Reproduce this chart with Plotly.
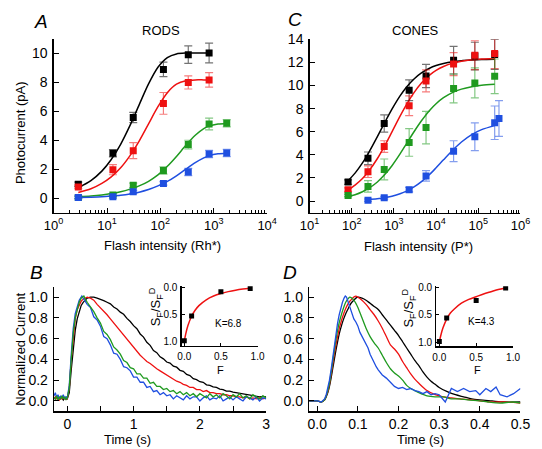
import plotly.graph_objects as go

W, H = 542, 449
def PX(px): return px / W
def PY(py): return 1 - py / H

FONT = "Liberation Sans, Arial, sans-serif"
C_BLACK = "#000000"
C_RED = "#ee1111"
C_GREEN = "#1f9a1f"
C_BLUE = "#1f4fe0"
E_BLACK = "rgba(0,0,0,0.55)"
E_RED = "rgba(238,17,17,0.55)"
E_GREEN = "rgba(31,154,31,0.55)"
E_BLUE = "rgba(31,79,224,0.55)"

# ---------------- Panel A (rods) ----------------
rod_intensity = [2.9, 12.9, 31, 114, 333, 818, 1750]
rod_black = [0.95, 3.09, 5.56, 8.87, 9.89, 10.0]
rod_black_err = [0.15, 0.25, 0.35, 0.5, 0.6, 0.68]
rod_red = [0.77, 1.96, 3.27, 6.53, 7.97, 8.15]
rod_red_err = [0.12, 0.35, 0.55, 0.75, 0.45, 0.5]
rod_green = [0.05, 0.22, 0.88, 1.91, 3.69, 5.11, 5.16]
rod_green_err = [0.08, 0.1, 0.15, 0.25, 0.3, 0.4, 0.25]
rod_blue = [0.05, 0.09, 0.43, 1.01, 1.8, 3.04, 3.11]
rod_blue_err = [0.08, 0.1, 0.1, 0.12, 0.25, 0.25, 0.25]

rod_fit_x = [2.9, 5, 8, 12, 18, 27, 40, 60, 90, 135, 200, 300, 450, 650, 818, 1200, 1750]
rod_fit_black = [0.72, 1.21, 1.86, 2.66, 3.71, 5.01, 6.43, 7.87, 9.02, 9.69, 9.94, 10.0, 10.0, 10.0, 10.0]
rod_fit_red = [0.38, 0.64, 1.01, 1.46, 2.09, 2.93, 3.93, 5.12, 6.30, 7.27, 7.85, 8.09, 8.15, 8.15, 8.15]
rod_fit_green = [0.10, 0.15, 0.22, 0.31, 0.44, 0.62, 0.84, 1.16, 1.60, 2.19, 2.87, 3.64, 4.33, 4.79, 4.97, 5.11, 5.15]
rod_fit_blue = [0.04, 0.06, 0.09, 0.14, 0.20, 0.29, 0.41, 0.59, 0.84, 1.15, 1.54, 2.00, 2.44, 2.77, 2.92, 3.05, 3.09]

# ---------------- Panel C (cones) ----------------
cone_intensity = [82, 243, 590, 2300, 5780, 26000, 83000, 245000, 310000]
cone_black = [1.64, 3.7, 6.72, 9.6, 10.83, 12.2, 12.55, 12.7]
cone_black_err = [0.2, 0.55, 0.75, 0.9, 1.0, 1.2, 1.2, 1.3]
cone_red = [0.99, 2.54, 4.72, 8.25, 10.4, 11.86, 12.63, 12.77]
cone_red_err = [0.15, 0.5, 0.5, 0.85, 0.95, 1.0, 1.25, 1.3]
cone_green = [0.48, 1.27, 2.74, 5.08, 6.36, 9.75, 10.23, 10.8]
cone_green_err = [0.1, 0.5, 0.9, 1.2, 1.4, 1.25, 1.3, 1.5]
cone_blue_x = [243, 590, 2300, 5780, 26000, 83000, 245000, 310000]
cone_blue = [0.08, 0.28, 0.99, 2.18, 4.32, 5.57, 6.78, 7.15]
cone_blue_err = [0.1, 0.12, 0.2, 0.45, 0.9, 1.2, 1.45, 1.55]

cone_fit_x = [82, 120, 180, 250, 400, 600, 900, 1400, 2000, 3000, 4500, 7000,
              10000, 15000, 25000, 40000, 70000, 120000, 245000]
cone_fit_black = [1.76, 2.42, 3.30, 4.16, 5.53, 6.77, 7.96, 9.11, 9.88, 10.57, 11.09, 11.50,
                  11.73, 11.91, 12.06, 12.15, 12.21, 12.25, 12.28]
cone_fit_red = [0.97, 1.38, 1.95, 2.56, 3.64, 4.76, 5.99, 7.35, 8.37, 9.39, 10.22, 10.90,
                11.31, 11.65, 11.94, 12.11, 12.23, 12.30, 12.35]
cone_fit_green = [0.38, 0.55, 0.81, 1.09, 1.63, 2.27, 3.06, 4.08, 4.98, 6.00, 6.95, 7.85,
                  8.43, 8.95, 9.41, 9.69, 9.90, 10.02, 10.11]
cone_fit_blue_x = [243, 400, 600, 900, 1400, 2000, 3000, 4500, 7000, 10000, 15000, 25000,
                   40000, 70000, 120000, 245000]
cone_fit_blue = [0.12, 0.19, 0.28, 0.42, 0.63, 0.86, 1.22, 1.68, 2.30, 2.88, 3.57, 4.42,
                 5.11, 5.75, 6.18, 6.53]

# ---------------- Panel B (rod responses) ----------------
b_base_t = [-0.2, -0.18, -0.16, -0.14, -0.12, -0.1, -0.08, -0.06, -0.04, -0.02, 0.0]
b_rise_t = [0.03, 0.06, 0.09, 0.12, 0.15, 0.18, 0.21]
b_dec_t = [round(0.25 + 0.05 * i, 2) for i in range(56)]

b_blue_t = b_base_t + b_rise_t + [0.22] + b_dec_t
b_blue = ([0.05, 0.08, 0.03, 0.06, 0.02, 0.05, 0.03, 0.06, 0.02, 0.04, 0.03]
          + [0.15, 0.45, 0.70, 0.84, 0.92, 0.97, 1.0] + [1.01]
          + [0.98, 0.93, 0.90, 0.81, 0.78, 0.72, 0.62, 0.60, 0.54, 0.46, 0.45, 0.40, 0.33, 0.32,
             0.29, 0.23, 0.23, 0.18, 0.18, 0.13, 0.14, 0.09, 0.10, 0.06, 0.08, 0.05, 0.06, 0.02,
             0.05, 0.03, 0.01, 0.05, 0.02, 0.04, 0.04, 0.0, 0.03, 0.05, 0.01, 0.03, 0.02, 0.05,
             0.0, 0.02, 0.04, 0.01, 0.04, 0.02, 0.0, 0.04, 0.03, 0.01, 0.04, 0.0, 0.03, 0.02])

b_green_t = b_base_t + b_rise_t + b_dec_t
b_green = ([0.03, 0.02, 0.05, 0.01, 0.04, 0.02, 0.05, 0.02, 0.04, 0.01, 0.03]
           + [0.12, 0.40, 0.65, 0.80, 0.89, 0.95, 0.99]
           + [1.01, 0.95, 0.91, 0.86, 0.80, 0.75, 0.67, 0.64, 0.59, 0.52, 0.49, 0.45, 0.39, 0.37,
              0.32, 0.31, 0.26, 0.26, 0.22, 0.22, 0.17, 0.18, 0.14, 0.14, 0.11, 0.12, 0.09, 0.10,
              0.07, 0.09, 0.06, 0.08, 0.05, 0.07, 0.04, 0.07, 0.05, 0.03, 0.07, 0.04, 0.06, 0.03,
              0.07, 0.05, 0.02, 0.06, 0.04, 0.07, 0.03, 0.05, 0.02, 0.06, 0.04, 0.02, 0.05, 0.03])

b_red_t = b_base_t + b_rise_t + [0.24, 0.27, 0.30] + [round(0.35 + 0.05 * i, 2) for i in range(54)]
b_red = ([0.02, 0.04, 0.02, 0.03, 0.01, 0.03, 0.02, 0.04, 0.02, 0.03, 0.02]
         + [0.12, 0.40, 0.64, 0.79, 0.88, 0.93, 0.96] + [0.98, 0.99, 1.0]
         + [0.99, 0.97, 0.93, 0.90, 0.86, 0.83, 0.79, 0.75, 0.71, 0.67, 0.63, 0.59, 0.55, 0.51,
            0.48, 0.44, 0.41, 0.38, 0.36, 0.33, 0.31, 0.29, 0.27, 0.25, 0.23, 0.21, 0.19, 0.18,
            0.16, 0.15, 0.13, 0.13, 0.11, 0.11, 0.09, 0.10, 0.08, 0.08, 0.07, 0.07, 0.06, 0.06,
            0.05, 0.05, 0.04, 0.04, 0.03, 0.04, 0.02, 0.03, 0.02, 0.03, 0.02, 0.03])

b_black_t = b_base_t + b_rise_t + [0.24, 0.27, 0.30, 0.35] + [round(0.4 + 0.05 * i, 2) for i in range(53)]
b_black = ([0.03, 0.02, 0.04, 0.02, 0.03, 0.02, 0.03, 0.01, 0.03, 0.02, 0.02]
           + [0.08, 0.30, 0.52, 0.68, 0.79, 0.87, 0.92] + [0.95, 0.97, 0.99, 1.0]
           + [1.0, 0.99, 0.98, 0.965, 0.95, 0.935, 0.905, 0.885, 0.855, 0.835, 0.795, 0.765, 0.725,
              0.695, 0.645, 0.615, 0.565, 0.535, 0.485, 0.465, 0.425, 0.405, 0.375, 0.365, 0.335,
              0.325, 0.295, 0.285, 0.255, 0.245, 0.215, 0.205, 0.185, 0.18, 0.155, 0.15, 0.135,
              0.13, 0.115, 0.11, 0.095, 0.095, 0.085, 0.08, 0.07, 0.07, 0.06, 0.06, 0.05, 0.05,
              0.04, 0.045, 0.04])

# ---------------- Panel D (cone responses) ----------------
d_blue_t = [-0.02, -0.01, 0.0, 0.01, 0.018, 0.022, 0.026, 0.03, 0.034, 0.038, 0.042, 0.046, 0.05,
            0.054, 0.058, 0.062, 0.066, 0.069, 0.072, 0.076, 0.08, 0.085, 0.09, 0.095, 0.1, 0.105,
            0.11, 0.115, 0.12, 0.125, 0.13, 0.135, 0.14, 0.145, 0.15, 0.16, 0.17, 0.18, 0.19, 0.2,
            0.21, 0.22, 0.23, 0.24, 0.25, 0.26, 0.27, 0.28, 0.29, 0.3, 0.31, 0.315, 0.33, 0.345,
            0.36, 0.375, 0.39, 0.4, 0.415, 0.427, 0.44, 0.45, 0.467, 0.483, 0.5]
d_blue = [0.0, 0.0, 0.0, -0.01, 0.02, 0.06, 0.12, 0.20, 0.30, 0.42, 0.54, 0.65, 0.75,
          0.83, 0.90, 0.95, 0.99, 1.01, 1.0, 0.95, 0.90, 0.84, 0.79, 0.76, 0.72, 0.66,
          0.62, 0.58, 0.54, 0.51, 0.45, 0.41, 0.36, 0.33, 0.30, 0.25, 0.22, 0.18, 0.14, 0.12,
          0.13, 0.11, 0.12, 0.10, 0.09, 0.07, 0.09, 0.06, 0.07, 0.06, 0.02, -0.01, 0.12, 0.09,
          0.12, 0.09, 0.10, 0.06, 0.12, 0.09, 0.135, 0.06, 0.04, 0.07, 0.12]

d_green_t = [-0.02, -0.01, 0.0, 0.01, 0.018, 0.022, 0.026, 0.03, 0.034, 0.038, 0.042, 0.046, 0.05,
             0.055, 0.06, 0.065, 0.07, 0.075, 0.08, 0.085, 0.09, 0.095, 0.1, 0.11, 0.12, 0.13,
             0.14, 0.15, 0.16, 0.17, 0.18, 0.19, 0.2, 0.21, 0.22, 0.23, 0.24, 0.25, 0.27, 0.29,
             0.31, 0.33, 0.35, 0.37, 0.4, 0.42, 0.45, 0.48, 0.5]
d_green = [0.0, 0.0, 0.0, -0.01, 0.01, 0.05, 0.10, 0.17, 0.27, 0.38, 0.49, 0.59, 0.68,
           0.77, 0.84, 0.90, 0.95, 0.98, 1.0, 0.99, 0.97, 0.94, 0.90, 0.80, 0.70, 0.62,
           0.56, 0.51, 0.44, 0.37, 0.31, 0.27, 0.24, 0.20, 0.15, 0.12, 0.10, 0.08, 0.05, 0.04,
           0.04, 0.02, 0.02, 0.01, 0.0, -0.01, -0.02, -0.01, -0.02]

d_red_t = [-0.02, -0.01, 0.0, 0.01, 0.018, 0.022, 0.026, 0.03, 0.034, 0.038, 0.042, 0.046, 0.05,
           0.055, 0.06, 0.065, 0.07, 0.075, 0.08, 0.085, 0.09, 0.095, 0.1, 0.11, 0.12, 0.13,
           0.14, 0.15, 0.16, 0.17, 0.18, 0.19, 0.2, 0.21, 0.22, 0.23, 0.24, 0.25, 0.27, 0.29,
           0.31, 0.33, 0.35, 0.38, 0.4, 0.43, 0.46, 0.5]
d_red = [0.0, 0.0, 0.0, -0.01, 0.01, 0.05, 0.09, 0.16, 0.25, 0.35, 0.45, 0.54, 0.62,
         0.71, 0.78, 0.84, 0.89, 0.93, 0.96, 0.98, 1.0, 1.01, 1.0, 0.97, 0.93, 0.88,
         0.83, 0.77, 0.70, 0.62, 0.54, 0.50, 0.45, 0.38, 0.32, 0.26, 0.21, 0.17, 0.10, 0.06,
         0.04, 0.03, 0.02, 0.01, 0.0, -0.01, -0.01, -0.02]

d_black_t = [-0.02, -0.01, 0.0, 0.01, 0.018, 0.022, 0.026, 0.03, 0.034, 0.038, 0.042, 0.046, 0.05,
             0.055, 0.06, 0.065, 0.07, 0.075, 0.08, 0.085, 0.09, 0.095, 0.1, 0.11, 0.12, 0.13,
             0.14, 0.15, 0.16, 0.17, 0.18, 0.19, 0.2, 0.21, 0.22, 0.23, 0.24, 0.25, 0.26, 0.27,
             0.28, 0.29, 0.3, 0.32, 0.34, 0.36, 0.38, 0.4, 0.43, 0.46, 0.5]
d_black = [0.0, 0.0, 0.0, -0.01, 0.01, 0.04, 0.08, 0.14, 0.22, 0.31, 0.40, 0.49, 0.57,
           0.66, 0.73, 0.79, 0.84, 0.88, 0.92, 0.95, 0.97, 0.99, 1.0, 0.99, 0.97, 0.94,
           0.91, 0.88, 0.83, 0.78, 0.73, 0.68, 0.63, 0.57, 0.51, 0.45, 0.39, 0.34, 0.28, 0.23,
           0.19, 0.16, 0.13, 0.09, 0.06, 0.04, 0.02, 0.01, 0.0, -0.01, -0.01]

# ---------------- Insets ----------------
inset_F = [0.0, 0.1, 0.5, 0.9]
insetB_ratio = [0.99, 0.53, 0.08, 0.02]
insetD_ratio = [0.99, 0.56, 0.24, 0.01]
inset_fit_F = [0.0, 0.02, 0.05, 0.1, 0.15, 0.2, 0.3, 0.4, 0.5, 0.6, 0.7, 0.8, 0.9]
insetB_fit = [1.0, 0.863, 0.709, 0.536, 0.421, 0.339, 0.230, 0.161, 0.114, 0.079, 0.052, 0.031, 0.014]
insetD_fit = [1.0, 0.88, 0.74, 0.58, 0.47, 0.40, 0.29, 0.22, 0.17, 0.12, 0.08, 0.04, 0.01]

fig = go.Figure()

def pts(x, y, err, color, ecolor, xa, ya):
    fig.add_trace(go.Scatter(
        x=x[:len(y)], y=y, mode="markers", xaxis=xa, yaxis=ya,
        marker=dict(symbol="square", size=7, color=color, line=dict(width=0)),
        error_y=dict(type="data", array=err, color=ecolor, thickness=1.2, width=4)))

def line(x, y, color, xa, ya, w=1.5, shape="spline"):
    fig.add_trace(go.Scatter(x=x[:len(y)], y=y, mode="lines", xaxis=xa, yaxis=ya,
                             line=dict(color=color, width=w, shape=shape, smoothing=0.8)))

# Panel A
line(rod_fit_x, rod_fit_black, C_BLACK, "x", "y")
line(rod_fit_x, rod_fit_red, C_RED, "x", "y")
line(rod_fit_x, rod_fit_green, C_GREEN, "x", "y")
line(rod_fit_x, rod_fit_blue, C_BLUE, "x", "y")
pts(rod_intensity, rod_black, rod_black_err, C_BLACK, E_BLACK, "x", "y")
pts(rod_intensity, rod_red, rod_red_err, C_RED, E_RED, "x", "y")
pts(rod_intensity, rod_green, rod_green_err, C_GREEN, E_GREEN, "x", "y")
pts(rod_intensity, rod_blue, rod_blue_err, C_BLUE, E_BLUE, "x", "y")

# Panel C
line(cone_fit_x, cone_fit_black, C_BLACK, "x2", "y2")
line(cone_fit_x, cone_fit_red, C_RED, "x2", "y2")
line(cone_fit_x, cone_fit_green, C_GREEN, "x2", "y2")
line(cone_fit_blue_x, cone_fit_blue, C_BLUE, "x2", "y2")
pts(cone_intensity, cone_black, cone_black_err, C_BLACK, E_BLACK, "x2", "y2")
pts(cone_intensity, cone_red, cone_red_err, C_RED, E_RED, "x2", "y2")
pts(cone_intensity, cone_green, cone_green_err, C_GREEN, E_GREEN, "x2", "y2")
pts(cone_blue_x, cone_blue, cone_blue_err, C_BLUE, E_BLUE, "x2", "y2")

# Panel B
line(b_black_t, b_black, C_BLACK, "x3", "y3", 1.3, "linear")
line(b_red_t, b_red, C_RED, "x3", "y3", 1.3, "linear")
line(b_blue_t, b_blue, C_BLUE, "x3", "y3", 1.3, "linear")
line(b_green_t, b_green, C_GREEN, "x3", "y3", 1.3, "linear")

# Panel D
line(d_black_t, d_black, C_BLACK, "x4", "y4", 1.3, "spline")
line(d_red_t, d_red, C_RED, "x4", "y4", 1.3, "spline")
line(d_green_t, d_green, C_GREEN, "x4", "y4", 1.3, "spline")
line(d_blue_t, d_blue, C_BLUE, "x4", "y4", 1.3, "linear")

# Insets
line(inset_fit_F, insetB_fit, C_RED, "x5", "y5", 1.5)
fig.add_trace(go.Scatter(x=inset_F, y=insetB_ratio, mode="markers", xaxis="x5", yaxis="y5",
                         marker=dict(symbol="square", size=5, color=C_BLACK)))
line(inset_fit_F, insetD_fit, C_RED, "x6", "y6", 1.5)
fig.add_trace(go.Scatter(x=inset_F, y=insetD_ratio, mode="markers", xaxis="x6", yaxis="y6",
                         marker=dict(symbol="square", size=5, color=C_BLACK)))

def ax(domain, rng, anchor, fs=13, **kw):
    d = dict(domain=domain, range=rng, anchor=anchor, showline=True, linecolor="black",
             linewidth=1.3, ticks="inside", ticklen=5, tickwidth=1, tickcolor="black",
             showgrid=False, zeroline=False, ticklabelstandoff=2,
             tickfont=dict(family=FONT, size=fs, color="black"))
    d.update(kw)
    return d

def minor_log(lo, hi):
    return [m * 10 ** e for e in range(lo, hi) for m in range(2, 10)]

layout = dict(
    width=W, height=H, margin=dict(l=0, r=0, t=0, b=0), autosize=False,
    paper_bgcolor="white", plot_bgcolor="rgba(0,0,0,0)", showlegend=False,
    font=dict(family=FONT, color="black"),
    xaxis=ax([PX(45.3), PX(267)], [0, 4], "y", 13, type="log", ticklabelstandoff=0,
             tickvals=[1, 10, 100, 1000, 10000],
             ticktext=["10<sup>0</sup>", "10<sup>1</sup>", "10<sup>2</sup>", "10<sup>3</sup>", "10<sup>4</sup>"],
             minor=dict(tickvals=minor_log(0, 4), ticks="inside", ticklen=3, tickcolor="black")),
    yaxis=ax([PY(208.8), PY(31.9)], [-1.0, 10.95], "x", 14, tickvals=[0, 2, 4, 6, 8, 10]),
    xaxis2=ax([PX(311), PX(530)], [1, 6], "y2", 13, type="log", ticklabelstandoff=0,
              tickvals=[10, 100, 1000, 10000, 100000, 1000000],
              ticktext=["10<sup>1</sup>", "10<sup>2</sup>", "10<sup>3</sup>", "10<sup>4</sup>", "10<sup>5</sup>", "10<sup>6</sup>"],
              minor=dict(tickvals=minor_log(1, 6), ticks="inside", ticklen=3, tickcolor="black")),
    yaxis2=ax([PY(208.8), PY(32)], [-1.0, 14], "x2", 14, tickvals=[0, 2, 4, 6, 8, 10, 12, 14]),
    xaxis3=ax([PX(45.7), PX(266)], [-0.2, 3], "y3", 14, ticklabelstandoff=0,
              tickvals=[0, 1, 2, 3], ticktext=["0", "1", "2", "3"],
              minor=dict(tickvals=[0.5, 1.5, 2.5], ticks="inside", ticklen=5, tickcolor="black")),
    yaxis3=ax([PY(411.6), PY(284.4)], [-0.1, 1.1], "x3", 14,
              tickvals=[0, 0.2, 0.4, 0.6, 0.8, 1.0], ticktext=["0.0", "0.2", "0.4", "0.6", "0.8", "1.0"]),
    xaxis4=ax([PX(310.6), PX(530)], [-0.02, 0.5], "y4", 14, ticklabelstandoff=0,
              tickvals=[0, 0.1, 0.2, 0.3, 0.4, 0.5], ticktext=["0.0", "0.1", "0.2", "0.3", "0.4", "0.5"]),
    yaxis4=ax([PY(411.6), PY(284.4)], [-0.1, 1.1], "x4", 14,
              tickvals=[0, 0.2, 0.4, 0.6, 0.8, 1.0], ticktext=["0.0", "0.2", "0.4", "0.6", "0.8", "1.0"]),
    xaxis5=ax([PX(178.3), PX(257)], [-0.035, 1.0], "y5", 10, ticklen=3, ticklabelstandoff=1,
              tickvals=[0, 0.5, 1.0], ticktext=["0.0", "0.5", "1.0"]),
    yaxis5=ax([PY(344.7), PY(284)], [1.085, -0.02], "x5", 10, ticklen=3, ticklabelstandoff=1,
              tickvals=[0, 0.5, 1.0], ticktext=["0.0", "0.5", "1.0"]),
    xaxis6=ax([PX(442.7), PX(522.3)], [-0.04, 1.0], "y6", 10, ticklen=3, ticklabelstandoff=1,
              tickvals=[0, 0.5, 1.0], ticktext=["0.0", "0.5", "1.0"]),
    yaxis6=ax([PY(345.3), PY(284)], [1.08, -0.02], "x6", 10, ticklen=3, ticklabelstandoff=1,
              tickvals=[0, 0.5, 1.0], ticktext=["0.0", "0.5", "1.0"]),
)
fig.update_layout(**layout)

def note(text, px, py, size=13, angle=0, italic=False):
    fig.add_annotation(text=text, x=PX(px), y=PY(py), xref="paper", yref="paper",
                       showarrow=False, textangle=angle, xanchor="center", yanchor="middle",
                       font=dict(family=FONT, size=size, color="black",
                                 style="italic" if italic else "normal"))

note("A", 32, 14, 19, italic=True)
note("C", 296, 12, 19, italic=True)
note("B", 28, 270, 19, italic=True)
note("D", 291, 270, 19, italic=True)
note("RODS", 157, 23, 13)
note("CONES", 421, 23, 13)
note("Photocurrent (pA)", 11, 127, 13, -90)
note("Flash intensity (Rh*)", 158, 242, 13)
note("Flash intensity (P*)", 424, 243, 13)
note("Normalized Current", 10, 348, 13, -90)
note("Time (s)", 122, 440, 13)
note("Time (s)", 426, 440, 13)
note("S<sub>F</sub>/S<sub>F</sub><sup>D</sup>", 151, 305, 13, -90)
note("S<sub>F</sub>/S<sub>F</sub><sup>D</sup>", 414, 306, 13, -90)
note("F", 219, 369, 11)
note("F", 485, 369, 11)
note("K=6.8", 227, 322, 10)
note("K=4.3", 490, 320, 10)

POST = ("document.documentElement.style.margin='0px';"
        "document.documentElement.style.padding='0px';"
        "document.body.style.margin='0px';document.body.style.padding='0px';"
        "document.body.style.overflow='hidden';"
        "var gd=document.getElementById('{plot_id}');"
        "gd.style.position='absolute';gd.style.left='0px';gd.style.top='0px';")

fig.write_html("out.html", config={"displayModeBar": False, "staticPlot": True, "responsive": False},
               default_width="542px", default_height="449px", post_script=POST)
